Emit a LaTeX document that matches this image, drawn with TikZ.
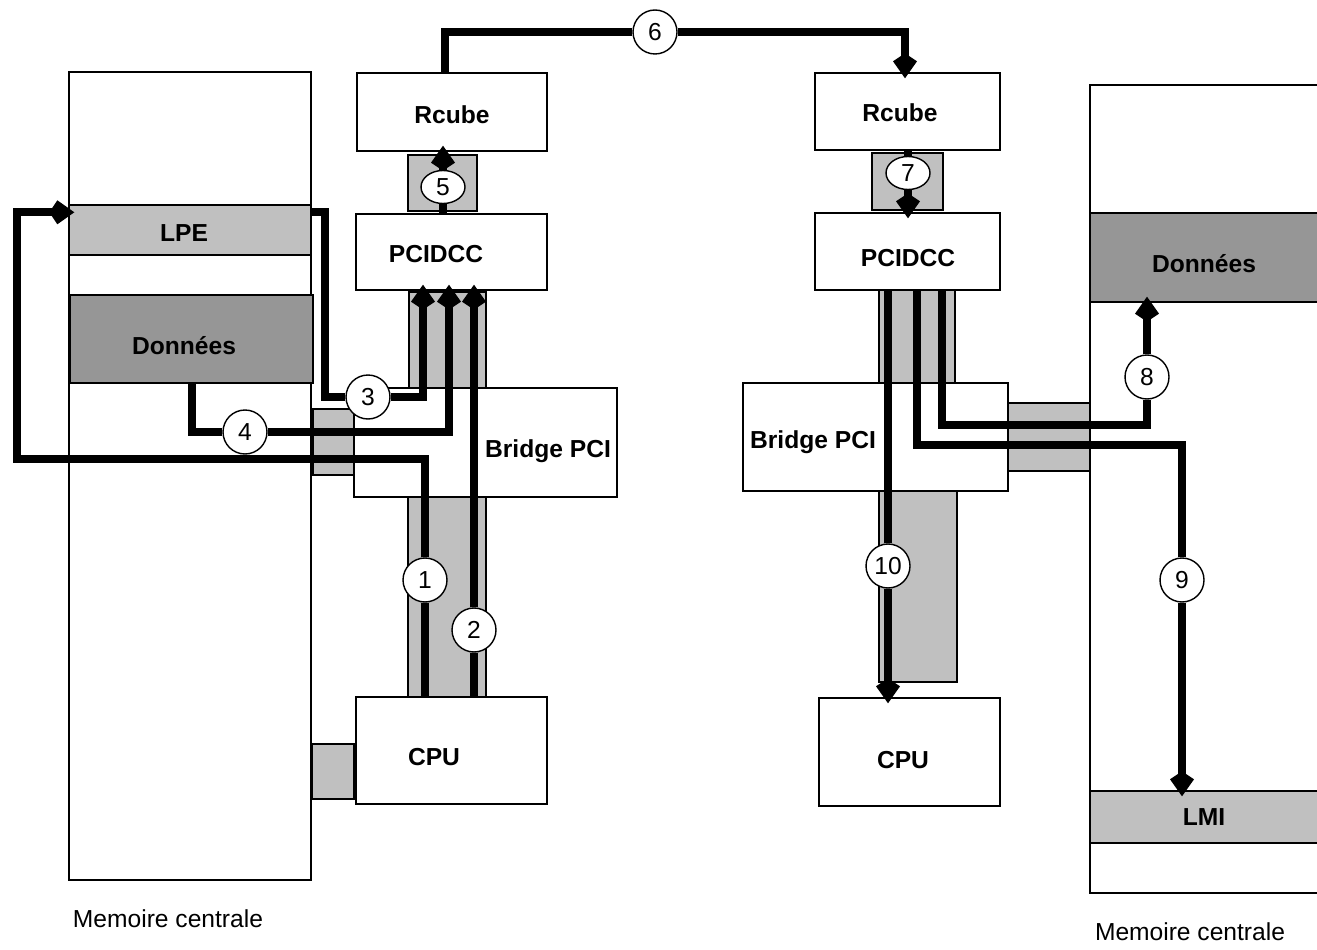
\documentclass[tikz,border=0pt]{standalone}
\usepackage{fontspec}
\setmainfont{Liberation Sans}
\usepackage{xcolor}
\usetikzlibrary{shapes.geometric, arrows.meta, calc}
\definecolor{lightgrey}{HTML}{C0C0C0}
\definecolor{darkgrey}{HTML}{969696}
\tikzstyle{box} = [rectangle, draw=black, line width=0.8pt, fill=white, inner sep=0pt]
\tikzstyle{bus} = [box, fill=lightgrey]
\tikzstyle{lbl} = [font=\bfseries\fontsize{14}{16}\selectfont]
\tikzstyle{memtxt} = [font=\fontsize{14}{16}\selectfont, inner sep=1pt]
\tikzstyle{badge} = [circle, draw=black, line width=0.8pt, fill=white, minimum size=0.88cm, inner sep=0pt, font=\fontsize{14}{16}\selectfont]
\tikzstyle{flatbadge} = [badge, ellipse, minimum width=0.88cm, minimum height=0.66cm]
\tikzstyle{arr} = [line width=0.16cm, shorten >=-0.12cm, -{Kite[length=0.5cm, width=0.48cm, inset=0.16cm, line width=0pt]}]

\begin{document}
\begin{tikzpicture}[x=0.02cm, y=-0.02cm]
  \useasboundingbox (0,0) rectangle (1317,949);
  \clip (0,0) rectangle (1317,949);
  % Left memory
  \node[box, minimum width=4.84cm, minimum height=16.16cm] (memL) at (190,476) {};
  \node[box, fill=lightgrey, minimum width=4.84cm, minimum height=1.0cm] (lpe) at (190,230) {};
  \node[box, fill=darkgrey, minimum width=4.86cm, minimum height=1.76cm] (donL) at (191.5,339) {};
  \node[bus, minimum width=0.82cm, minimum height=1.32cm] (gA) at (333.5,442) {};
  \node[bus, minimum width=0.84cm, minimum height=1.1cm] (gB) at (333,771.5) {};
  % Left node
  \node[bus, minimum width=1.38cm, minimum height=1.12cm] (busL1) at (442.5,183) {};
  \node[bus, minimum width=1.54cm, minimum height=1.92cm] (busL2) at (447.5,340) {};
  \node[bus, minimum width=1.56cm, minimum height=4.0cm] (busL3) at (447,597) {};
  \node[box, minimum width=3.8cm, minimum height=1.56cm] (rcL) at (452,112) {};
  \node[box, minimum width=3.82cm, minimum height=1.52cm] (pciL) at (451.5,252) {};
  \node[box, minimum width=5.26cm, minimum height=2.18cm] (brL) at (485.5,442.5) {};
  \node[box, minimum width=3.82cm, minimum height=2.14cm] (cpuL) at (451.5,750.5) {};
  % Right node
  \node[bus, minimum width=1.42cm, minimum height=1.14cm] (busR1) at (907.5,181.5) {};
  \node[bus, minimum width=1.52cm, minimum height=1.86cm] (busR2) at (917,336.5) {};
  \node[bus, minimum width=1.56cm, minimum height=3.82cm] (busR3) at (918,586.5) {};
  \node[bus, minimum width=1.64cm, minimum height=1.36cm] (gC) at (1049,437) {};
  \node[box, minimum width=3.7cm, minimum height=1.54cm] (rcR) at (907.5,111.5) {};
  \node[box, minimum width=3.7cm, minimum height=1.54cm] (pciR) at (907.5,251.5) {};
  \node[box, minimum width=5.3cm, minimum height=2.16cm] (brR) at (875.5,437) {};
  \node[box, minimum width=3.62cm, minimum height=2.16cm] (cpuR) at (909.5,752) {};
  % Right memory
  \node[box, minimum width=4.64cm, minimum height=16.16cm] (memR) at (1206,489) {};
  \node[box, fill=darkgrey, minimum width=4.64cm, minimum height=1.78cm] (donR) at (1206,257.5) {};
  \node[box, fill=lightgrey, minimum width=4.64cm, minimum height=1.04cm] (lmi) at (1206,817) {};
  % Labels
  \node[lbl] (tLpe) at (184,233) {LPE};
  \node[lbl] (tDonL) at (184,346) {Données};
  \node[lbl] (tRcL) at (452,115) {Rcube};
  \node[lbl] (tPciL) at (436,254) {PCIDCC};
  \node[lbl] (tBrL) at (548,451) {Bridge PCI};
  \node[lbl] (tCpuL) at (434,757) {CPU};
  \node[lbl] (tRcR) at (900,113) {Rcube};
  \node[lbl] (tPciR) at (908,258) {PCIDCC};
  \node[lbl] (tBrR) at (813,442) {Bridge PCI};
  \node[lbl] (tCpuR) at (903,760) {CPU};
  \node[lbl] (tDonR) at (1204,264) {Données};
  \node[lbl] (tLmi) at (1204,817) {LMI};
  \node[memtxt] (tMemL) at (168,919) {Memoire centrale};
  \node[memtxt] (tMemR) at (1190,932) {Memoire centrale};
  % Step badges
  \node[badge] (n1) at (425,580) {1};
  \node[badge] (n2) at (474,630) {2};
  \node[badge] (n3) at (368,397) {3};
  \node[badge] (n4) at (245,432) {4};
  \node[flatbadge] (n5) at (443,187) {5};
  \node[badge] (n6) at (655,32) {6};
  \node[flatbadge] (n7) at (908,173) {7};
  \node[badge] (n8) at (1147,377) {8};
  \node[badge] (n9) at (1182,580) {9};
  \node[badge] (n10) at (888,566) {10};
  % Corners of the routes
  \coordinate (k1) at (17,459);
  \coordinate (k3) at (325,397);
  \coordinate (x3) at (423,0);
  \coordinate (x4) at (449,0);
  \coordinate (x6a) at (445,0);
  \coordinate (x6b) at (905,0);
  \coordinate (k8) at (1147,425);
  \coordinate (x8) at (942,0);
  \coordinate (k9) at (1182,445);
  \coordinate (x9) at (917,0);
  % Routes
  \draw[arr] (cpuL.north -| n1) -- (n1) -- (n1 |- k1) -- (k1) |- ([yshift=-0.16cm]lpe.north west);
  \draw[arr] (cpuL.north -| n2) -- (n2) -- (n2 |- pciL.south);
  \draw[arr] ([yshift=-0.16cm]lpe.north east) -| (k3) -- (n3) -| (x3 |- pciL.south);
  \draw[arr] (donL.south) |- (n4) -| (x4 |- pciL.south);
  \draw[arr] (pciL.north -| n5) -- (n5) -- (n5 |- rcL.south);
  \draw[arr] (x6a |- rcL.north) |- (n6) -| (x6b |- rcR.north);
  \draw[arr] (rcR.south -| n7) -- (n7) -- (n7 |- pciR.north);
  \draw[arr] (x8 |- pciR.south) |- (k8) -- (n8) -- (n8 |- donR.south);
  \draw[arr] (x9 |- pciR.south) |- (k9) -- (n9) -- (n9 |- lmi.north);
  \draw[arr] (pciR.south -| n10) -- (n10) -- (n10 |- cpuR.north);
\end{tikzpicture}
\end{document}
